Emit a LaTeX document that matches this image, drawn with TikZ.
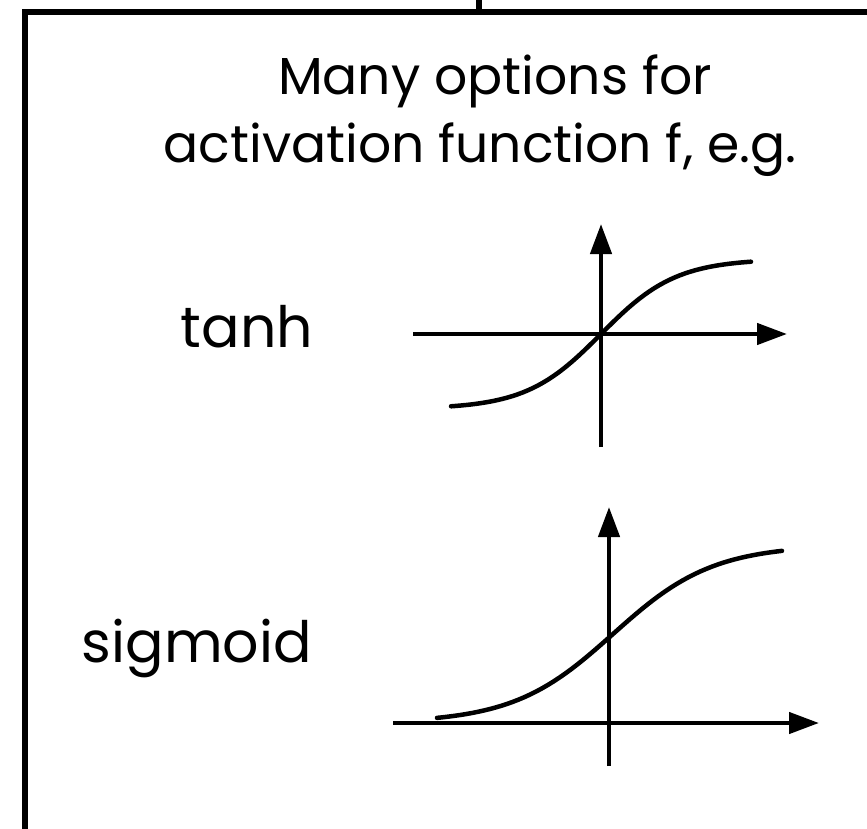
\documentclass[tikz,border=0pt]{standalone}
\usepackage{fontspec}
\setmainfont{Poppins}
\usetikzlibrary{arrows.meta}
\definecolor{ink}{HTML}{000000}

\begin{document}
\begin{tikzpicture}[x=1pt, y=-1pt, >={Triangle[length=30pt, width=21pt]}, line width=4.5pt,
  lbl/.style={font=\fontsize{52}{60}\selectfont, text=ink, anchor=base, inner sep=0pt},
  fname/.style={font=\fontsize{57}{66}\selectfont, text=ink, anchor=base, inner sep=0pt}]

\useasboundingbox (0,0) rectangle (867,829);
\fill[white] (0,0) rectangle (867,829);

% Frame (runs off the page at right and bottom)
\draw[ink, line width=6pt] (25,900) -- (25,12.5) -- (950,12.5);
\coordinate (feed) at (479,0);
\coordinate (frametop) at (479,12.5);
\draw[ink, line width=6pt] (feed) -- (frametop);

% Heading
\node[lbl] (headA) at (495,95) {Many options for};
\node[lbl] (headB) at (480,163) {activation function f, e.g.};

% --- tanh ---
\node[fname] (tanhlbl) at (247,347) {tanh};
\begin{scope}[shift={(601,334)}]
  \draw[->, ink] (-188,0) -- (186,0);
  \draw[->, ink] (0,113) -- (0,-110);
  \draw[ink, line cap=round] plot[domain=-150:150, samples=60] (\x, {-75*tanh(\x/75)});
\end{scope}

% --- sigmoid ---
\node[fname] (sigmlbl) at (197,662) {sigmoid};
\begin{scope}[shift={(609,723)}]
  \draw[->, ink] (-216,0) -- (210,0);
  \draw[->, ink] (0,43) -- (0,-216);
  \draw[ink, line cap=round] plot[domain=-172:173, samples=60] (\x, {-178/(1+exp(-(\x-4)/50))});
\end{scope}

\end{tikzpicture}
\end{document}
